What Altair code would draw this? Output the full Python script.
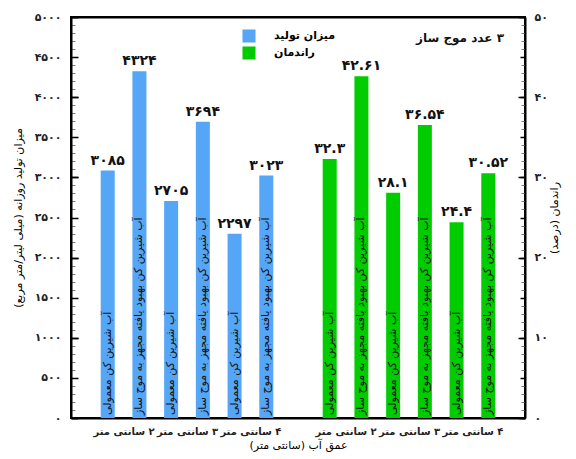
import altair as alt
import pandas as pd

FA = str.maketrans("0123456789", "۰۱۲۳۴۵۶۷۸۹")
RLM = "\u200f"


def fa(v):
    return str(v).translate(FA)


def rtl(s):
    return RLM + s + RLM


# ---------------- data ----------------
depths = ["۲ سانتی متر", "۳ سانتی متر", "۴ سانتی متر"]
types = ["آب شیرین کن معمولی", "آب شیرین کن بهبود یافته مجهز به موج ساز"]
series = ["میزان تولید", "راندمان"]
production = [3085, 4324, 2705, 3694, 2297, 3023]      # ml / m2
efficiency = [32.3, 42.61, 28.1, 36.54, 24.4, 30.52]   # percent
left_ticks = list(range(0, 5001, 500))
left_minor = [v for v in range(0, 5001, 100) if v % 500]
right_ticks = list(range(0, 51, 10))
left_domain = [0, 5000]
right_domain = [0, 50]
x_domain = [0, 14]

BLUE = "#55A6F6"
GREEN = "#00CC00"
FONT = "DejaVu Sans"
W, H = 454, 401

rows_b, rows_g = [], []
for i in range(6):
    rows_b.append({"pos": i + 1, "value": production[i], "label": fa(production[i]),
                   "type": rtl(types[i % 2]), "series": series[0]})
    rows_g.append({"pos": i + 8, "value": efficiency[i], "label": fa(efficiency[i]),
                   "type": rtl(types[i % 2]), "series": series[1]})
df_b = pd.DataFrame(rows_b)
df_g = pd.DataFrame(rows_g)

group_pos = [1.5, 3.5, 5.5, 8.5, 10.5, 12.5]
group_lab = [rtl(d) for d in depths + depths]


def expr(values, labels):
    e = "''"
    for v, l in reversed(list(zip(values, labels))):
        e = f"datum.value == {v} ? '{l}' : {e}"
    return e


x_axis = alt.Axis(values=group_pos, labelExpr=expr(group_pos, group_lab), ticks=False,
                  domain=True, domainColor="black", domainWidth=2, grid=False,
                  labelFont=FONT, labelFontSize=10,
                  labelFontWeight="bold", labelPadding=8, labelColor="#222",
                  title=rtl("عمق آب (سانتی متر)"), titleFont=FONT, titleFontSize=11,
                  titleFontWeight="normal", titlePadding=3)
X = alt.X("pos:Q", scale=alt.Scale(domain=x_domain, nice=False, zero=False), axis=x_axis)

color = alt.Color("series:N", scale=alt.Scale(domain=series, range=[BLUE, GREEN]),
                  legend=alt.Legend(orient="none", legendX=171, legendY=12, title=None,
                                    symbolType="square", symbolSize=170, symbolStrokeWidth=0,
                                    labelFont=FONT, labelFontSize=11, labelFontWeight="bold",
                                    labelOffset=18, rowPadding=3))

sc_b = alt.Scale(domain=left_domain, nice=False)
sc_g = alt.Scale(domain=right_domain, nice=False)


def guide_axis(values, orient, dash, col, width):
    # an extra axis drawing only (dashed) grid lines: short tick marks along the frame
    return alt.Axis(values=values, orient=orient, labels=False, ticks=False, domain=False,
                    grid=True, gridColor=col, gridWidth=width, gridDash=dash,
                    gridOpacity=1, title=None)


# ---------- production (left axis) ----------
b_bars = alt.Chart(df_b).mark_bar(size=14).encode(
    x=X,
    y=alt.Y("value:Q", scale=sc_b, axis=alt.Axis(
        values=left_ticks, labelExpr=expr(left_ticks, [fa(v) for v in left_ticks]),
        orient="left", ticks=False, domain=True, domainColor="black", domainWidth=2,
        grid=True, gridColor="black", gridWidth=1.5, gridOpacity=1,
        gridDash=[7, W - 12, 5],
        labelPadding=10, labelFont=FONT, labelFontSize=11, labelFontWeight="bold",
        labelColor="#222",
        title=rtl("میزان تولید روزانه (میلی لیتر/متر مربع)"), titleFont=FONT, titleFontSize=11,
        titleFontWeight="normal", titleAngle=270, titlePadding=11)),
    color=color,
)
b_minor = alt.Chart(df_b).mark_bar(size=14, opacity=0).encode(
    x=X,
    y=alt.Y("value:Q", scale=sc_b,
            axis=guide_axis(left_minor, "left", [4, W - 8, 4], "gray", 1)),
)
b_top = alt.Chart(df_b).mark_bar(size=14, opacity=0).encode(
    x=X,
    y=alt.Y("value:Q", scale=sc_b,
            axis=guide_axis([left_domain[1]], "left", [W, 0], "black", 2)),
)
b_val = alt.Chart(df_b).mark_text(font=FONT, fontSize=14, fontWeight="bold", baseline="bottom",
                                  dy=-3, color="#111").encode(
    x=X, y=alt.Y("value:Q", scale=sc_b, axis=None), text="label:N")
b_in = alt.Chart(df_b).mark_text(font=FONT, fontSize=11, angle=270, align="left",
                                 baseline="middle", dx=3, color="#111").encode(
    x=X, y=alt.Y("zero:Q", scale=sc_b, axis=None), text="type:N"
).transform_calculate(zero="0")
note = alt.Chart(pd.DataFrame({"t": [rtl("۳ عدد موج ساز")]})).mark_text(
    font=FONT, fontSize=12, fontWeight="bold", color="#111"
).encode(x=alt.value(389), y=alt.value(21), text="t:N")

blue = alt.layer(b_bars, b_minor, b_top, b_val, b_in, note).resolve_axis(y="independent")

# ---------- efficiency (right axis) ----------
g_bars = alt.Chart(df_g).mark_bar(size=14).encode(
    x=X,
    y=alt.Y("value:Q", scale=sc_g, axis=alt.Axis(
        values=right_ticks, labelExpr=expr(right_ticks, [fa(v) for v in right_ticks]),
        orient="right", ticks=False, domain=True, domainColor="black", domainWidth=2,
        grid=True, gridColor="black", gridWidth=1.5, gridOpacity=1,
        gridDash=[7, W - 14, 7],
        labelPadding=9, labelFont=FONT, labelFontSize=11, labelFontWeight="bold",
        labelColor="#222",
        title=rtl("راندمان (درصد)"), titleFont=FONT, titleFontSize=11, titleFontWeight="normal",
        titleAngle=270, titlePadding=12)),
    color=color,
)
g_val = alt.Chart(df_g).mark_text(font=FONT, fontSize=14, fontWeight="bold", baseline="bottom",
                                  dy=-3, color="#111").encode(
    x=X, y=alt.Y("value:Q", scale=sc_g, axis=None), text="label:N")
g_in = alt.Chart(df_g).mark_text(font=FONT, fontSize=11, angle=270, align="left",
                                 baseline="middle", dx=3, color="#111").encode(
    x=X, y=alt.Y("zero:Q", scale=sc_g, axis=None), text="type:N"
).transform_calculate(zero="0")

green = alt.layer(g_bars, g_val, g_in).resolve_axis(y="independent")

chart = alt.layer(blue, green).resolve_scale(y="independent").properties(
    width=W, height=H,
    padding={"left": 63, "top": 9, "right": 37, "bottom": 34},
    autosize=alt.AutoSizeParams(type="none"),
).configure_view(stroke="black", strokeWidth=2)

chart.save("out.html", embed_options={"renderer": "svg", "actions": False})
